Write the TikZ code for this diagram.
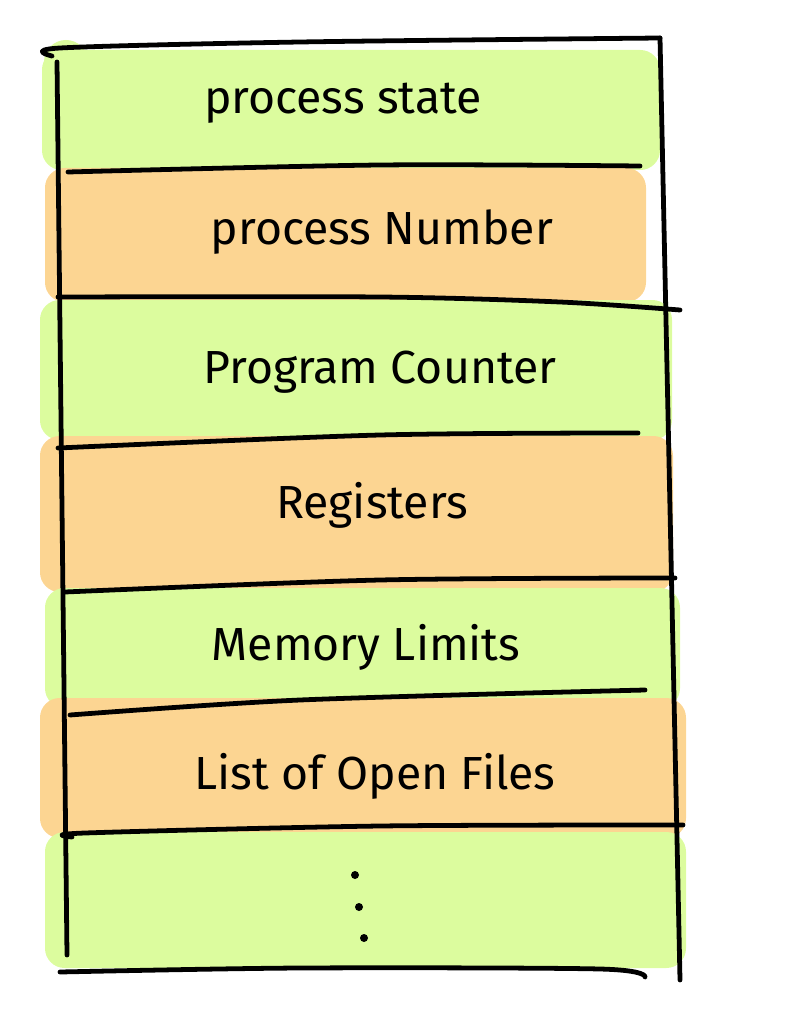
\documentclass[tikz,border=0pt]{standalone}
\usepackage{fontspec}
\setmainfont{Fira Sans}
\usepackage{xcolor}
\usetikzlibrary{positioning}

\definecolor{bandgreen}{HTML}{DCFC9E}
\definecolor{bandorange}{HTML}{FCD592}

\tikzset{
  band/.style={rounded corners=14pt},
  stroke/.style={line width=3.4pt,line cap=round,line join=round},
  field/.style={font=\fontsize{33}{38}\selectfont}
}

\begin{document}
\begin{tikzpicture}[x=0.025cm,y=-0.025cm]
  \useasboundingbox (0,0) rectangle (787,1018);
  % colour bands
  \fill[bandgreen,band]  (42,50) rectangle (660,170);
  \fill[bandgreen]       (66,62) circle (22);
  \fill[bandorange,band] (45,168) rectangle (646,302);
  \fill[bandgreen,band]  (40,300) rectangle (672,440);
  \fill[bandorange,band] (40,436) rectangle (673,592);
  \fill[bandgreen,band]  (45,588) rectangle (680,708);
  \fill[bandorange,band] (40,698) rectangle (686,838);
  \fill[bandgreen,band]  (45,832) rectangle (686,968);
  % separators
  \draw[stroke] plot[smooth] coordinates {(52,56) (60,48) (300,42) (660,38)};
  \draw[stroke] plot[smooth] coordinates {(68,172) (380,165) (640,166)};
  \draw[stroke] plot[smooth] coordinates {(58,297) (380,297) (560,302) (680,310)};
  \draw[stroke] plot[smooth] coordinates {(58,448) (380,435) (638,433)};
  \draw[stroke] plot[smooth] coordinates {(65,592) (380,580) (675,578)};
  \draw[stroke] plot[smooth] coordinates {(70,715) (300,700) (645,690)};
  \draw[stroke] plot[smooth] coordinates {(72,837) (85,833) (380,826) (683,825)};
  \draw[stroke] plot[smooth] coordinates {(60,972) (300,968) (600,969) (645,977)};
  % outer walls
  \draw[stroke] (57,62) -- (67,955);
  \draw[stroke] (660,38) -- (680,980);
  % fields
  \node[field] (state)    at (343,103) {process state};
  \node[field] (number)   at (382,232) {process Number};
  \node[field] (counter)  at (380,372) {Program Counter};
  \node[field] (regs)     at (372,505) {Registers};
  \node[field] (memlimit) at (366,647) {Memory Limits};
  \node[field] (files)    at (375,776) {List of Open Files};
  \foreach \x/\y in {355/875,359/907,364/938}
    \fill (\x,\y) circle (4);
\end{tikzpicture}
\end{document}
